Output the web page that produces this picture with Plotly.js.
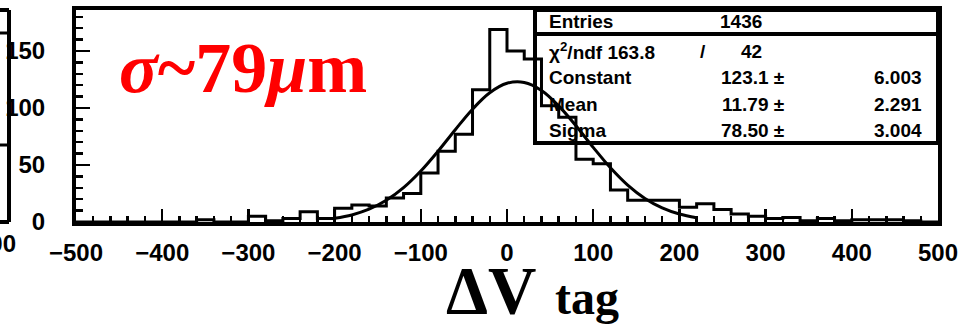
<!DOCTYPE html>
<html><head><meta charset="utf-8">
<script src="https://cdn.plot.ly/plotly-3.0.1.min.js"></script>
<style>html,body{margin:0;padding:0;background:#fff;overflow:hidden;} #chart{width:978px;height:329px;}</style>
</head><body><div id="chart"></div>
<script>
// ---- data ----
const binEdges = [-500,-480,-460,-440,-420,-400,-380,-360,-340,-320,-300,-280,-260,-240,-220,-200,-180,-160,-140,-120,-100,-80,-60,-40,-20,0,20,40,60,80,100,120,140,160,180,200,220,240,260,280,300,320,340,360,380,400,420,440,460,480,500];
const binCounts = [0,0,0,0,0,0,0,2,0,0,5,1,3,9,3,12,15,14,21,25,43,62,77,116,169,150,143,102,92,55,51,28,19,19,19,13,16,11,7,5,3,4,1,3,1,2,2,2,1,0];
const fitX = [-200,-180,-160,-140,-120,-100,-80,-60,-40,-20,0,20,40,60,80,100,120,140,160,180,200,220];
const fitY = [3.2,6.2,11.2,19.0,30.1,44.7,62.1,81.0,99.0,113.4,121.7,122.4,115.4,101.9,84.4,65.5,47.6,32.4,20.7,12.4,7.0,3.7];
const xTickVals = [-500,-400,-300,-200,-100,0,100,200,300,400,500];
const yTickVals = [0,50,100,150];
const statNames = ['Entries','χ<sup>2</sup>/ndf 163.8','Constant','Mean','Sigma'];
const statValues = ['1436','42','123.1 ±','11.79 ±','78.50 ±'];
const statErrors = ['','','6.003','2.291','3.004'];
const resolutionLabel = '<i>σ</i>~79<i>μ</i>m';

// ---- geometry helpers (pixels -> paper) ----
const W = 978, H = 329, L = 76, R = 938, T = 10, B = 222;
const px = x => (x - L) / (R - L);
const py = y => (B - y) / (B - T);

const histY = binCounts.concat([binCounts[binCounts.length-1]]);

const traces = [
  {x: binEdges, y: histY, type:'scatter', mode:'lines', line:{shape:'hv', color:'black', width:3}, hoverinfo:'skip'},
  {x: fitX, y: fitY, type:'scatter', mode:'lines', line:{shape:'spline', smoothing:1, color:'black', width:3}, hoverinfo:'skip'}
];

const tickFont = {family:'Liberation Sans, Arial, sans-serif', size:24, color:'black', weight:'bold'};
const statFont = {family:'Liberation Sans, Arial, sans-serif', size:19, color:'black', weight:'bold'};

const rowY = [22, 51, 77, 104, 130];
const annotations = [];
statNames.forEach((t,i) => {
  annotations.push({xref:'paper', yref:'paper', x:px(547), y:py(rowY[i]), xanchor:'left', yanchor:'middle', text:t, showarrow:false, font:statFont});
});
annotations.push({xref:'paper', yref:'paper', x:px(764), y:py(rowY[0]), xanchor:'right', yanchor:'middle', text:statValues[0], showarrow:false, font:statFont});
annotations.push({xref:'paper', yref:'paper', x:px(703), y:py(rowY[1]), xanchor:'center', yanchor:'middle', text:'/', showarrow:false, font:statFont});
annotations.push({xref:'paper', yref:'paper', x:px(764), y:py(rowY[1]), xanchor:'right', yanchor:'middle', text:statValues[1], showarrow:false, font:statFont});
for (let i = 2; i < 5; i++) {
  annotations.push({xref:'paper', yref:'paper', x:px(786), y:py(rowY[i]), xanchor:'right', yanchor:'middle', text:statValues[i], showarrow:false, font:statFont});
  if (statErrors[i]) annotations.push({xref:'paper', yref:'paper', x:px(924), y:py(rowY[i]), xanchor:'right', yanchor:'middle', text:statErrors[i], showarrow:false, font:statFont});
}
// red resolution label
annotations.push({xref:'paper', yref:'paper', x:px(117), y:py(68), xanchor:'left', yanchor:'middle', text:resolutionLabel, showarrow:false,
  font:{family:'Liberation Serif, Times New Roman, serif', size:72, color:'#ff0000', weight:'bold'}});
// x-axis title  ΔV_tag
annotations.push({xref:'paper', yref:'paper', x:px(444), y:py(290), xanchor:'left', yanchor:'middle', text:'ΔV', showarrow:false,
  font:{family:'Liberation Serif, Times New Roman, serif', size:67, color:'black', weight:'bold'}});
annotations.push({xref:'paper', yref:'paper', x:px(553), y:py(297), xanchor:'left', yanchor:'middle', text:'tag', showarrow:false,
  font:{family:'Liberation Serif, Times New Roman, serif', size:48, color:'black', weight:'bold'}});
// cut-off label of the neighbouring panel
annotations.push({xref:'paper', yref:'paper', x:px(18), y:py(243), xanchor:'right', yanchor:'middle', text:'500', showarrow:false, font:tickFont});

const frame = {type:'line', xref:'paper', yref:'paper', line:{color:'black', width:4}};
const thin = {type:'line', xref:'paper', yref:'paper', line:{color:'black', width:3}};
const shapes = [
  // stats box
  {type:'rect', xref:'paper', yref:'paper', x0:px(535), x1:px(938), y0:py(143), y1:py(10), line:{color:'black', width:4}, fillcolor:'rgba(0,0,0,0)', layer:'below'},
  Object.assign({}, frame, {x0:px(535), x1:px(938), y0:py(34), y1:py(34)}),
  // neighbouring panel edge
  Object.assign({}, frame, {x0:px(9), x1:px(9), y0:py(222), y1:py(10)}),
  Object.assign({}, frame, {x0:px(-2), x1:px(9), y0:py(10), y1:py(10)}),
  Object.assign({}, frame, {x0:px(-2), x1:px(9), y0:py(222), y1:py(222)}),
  Object.assign({}, thin, {x0:px(-2), x1:px(9), y0:py(33), y1:py(33)}),
  Object.assign({}, thin, {x0:px(-2), x1:px(9), y0:py(145), y1:py(145)})
];

const layout = {
  width: W, height: H,
  margin: {l: L, r: W - R, t: T, b: H - B, pad: 0},
  paper_bgcolor: 'white', plot_bgcolor: 'white',
  showlegend: false,
  xaxis: {range:[-500,500], tickvals:xTickVals, ticks:'inside', ticklen:13, tickwidth:2.5, tickcolor:'black',
    showline:true, linewidth:4, linecolor:'black', mirror:true, showgrid:false, zeroline:false,
    tickfont:tickFont, ticklabelstandoff:6,
    minor:{dtick:20, ticks:'inside', ticklen:6, tickwidth:2.5, tickcolor:'black', showgrid:false}},
  yaxis: {range:[0,186], tickvals:yTickVals, ticks:'inside', ticklen:14, tickwidth:2.5, tickcolor:'black',
    showline:true, linewidth:4, linecolor:'black', mirror:true, showgrid:false, zeroline:false,
    tickfont:tickFont, ticklabelstandoff:22,
    minor:{dtick:10, ticks:'inside', ticklen:7, tickwidth:2.5, tickcolor:'black', showgrid:false}},
  annotations: annotations,
  shapes: shapes
};

Plotly.newPlot('chart', traces, layout, {staticPlot:true, displayModeBar:false});
</script>
</body></html>
